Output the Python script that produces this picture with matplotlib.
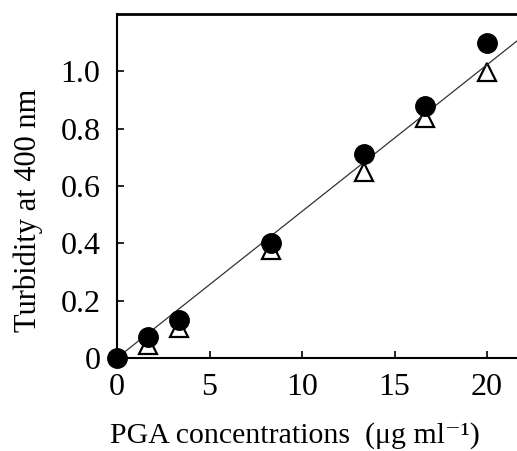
import numpy as np
import matplotlib
matplotlib.use('Agg')
import matplotlib.pyplot as plt

# PGA concentration (ug/ml) and turbidity at 400 nm
conc = [0, 1.67, 3.33, 8.33, 13.33, 16.67, 20]
turb_circle = [0.0, 0.073, 0.132, 0.40, 0.71, 0.878, 1.098]
turb_triangle = [0.0, 0.045, 0.105, 0.376, 0.65, 0.836, 0.997]
xticks = [0, 5, 10, 15, 20]
yticks = [0, 0.2, 0.4, 0.6, 0.8, 1.0]
ytick_labels = ['0', '0.2', '0.4', '0.6', '0.8', '1.0']

plt.rcParams['font.family'] = ['Liberation Serif', 'DejaVu Serif']

fig = plt.figure(figsize=(5.17, 4.51), dpi=100)
ax = fig.add_axes([0.2263, 0.2062, 0.7737, 0.7627])

# regression line through origin over both series
x = np.array(conc * 2)
y = np.array(turb_circle + turb_triangle)
slope = np.sum(x * y) / np.sum(x * x)
xl = np.array([0, 23])

ax.plot(conc, turb_triangle, linestyle='none', marker='^', markersize=13,
        markerfacecolor='white', markeredgecolor='black', markeredgewidth=1.6, zorder=2)
ax.plot(xl, slope * xl, color='#333333', linewidth=0.9, zorder=3)
ax.plot(conc, turb_circle, linestyle='none', marker='o', markersize=14,
        markerfacecolor='black', markeredgecolor='black', zorder=4, clip_on=False)

ax.set_xlim(0, 21.62)
ax.set_ylim(0, 1.2)
ax.set_xticks(xticks)
ax.set_yticks(yticks)
ax.set_yticklabels(ytick_labels)
ax.tick_params(direction='in', length=5, width=1.2, labelsize=23)
ax.tick_params(axis='x', pad=11)
ax.tick_params(axis='y', pad=12)

ax.spines['right'].set_visible(False)
for s in ['left', 'bottom']:
    ax.spines[s].set_linewidth(1.5)
ax.spines['top'].set_linewidth(2)

ax.set_xlabel('PGA concentrations  (μg ml⁻¹)', fontsize=21.5)
ax.xaxis.label.set_va('baseline')
ax.set_ylabel('Turbidity at 400 nm', fontsize=22)
ax.xaxis.set_label_coords(0.445, -0.247)
ax.yaxis.set_label_coords(-0.185, 0.43)

fig.savefig('out.png', dpi=100)
